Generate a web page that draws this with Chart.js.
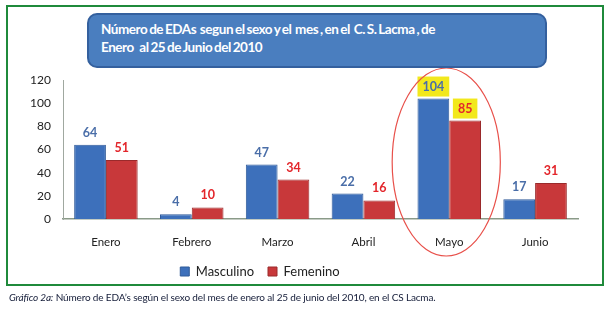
<!DOCTYPE html>
<html><head><meta charset="utf-8">
<script src="https://cdn.jsdelivr.net/npm/chart.js@4/dist/chart.umd.min.js"></script>
<style>
html,body{margin:0;padding:0;background:#fff;width:607px;height:309px;overflow:hidden;font-family:Lato,"Open Sans",sans-serif;}
#frame{position:absolute;left:6px;top:5px;width:594px;height:277px;border:2px solid #1f8a3b;}
#title{position:absolute;left:87px;top:13px;width:444px;height:46px;background:#4a7ebf;border:2px solid #34609e;border-radius:10px;color:#fff;font-weight:bold;font-size:13.5px;line-height:18px;padding:5px 0 0 12px;white-space:pre;letter-spacing:-0.45px;word-spacing:-1px;}
#cv{position:absolute;left:0;top:0;}
#cap{position:absolute;left:9px;top:291px;font-size:10px;color:#141c38;white-space:nowrap;letter-spacing:-0.15px;}
</style></head><body>
<div id="frame"></div>
<canvas id="cv" width="607" height="309"></canvas>
<div id="title">Número de EDAs  segun el sexo y el  mes , en el  C. S. Lacma , de
Enero   al 25 de Junio del 2010</div>
<div id="cap"><i>Gráfico 2a:</i> Número de EDA’s según el sexo del mes de enero al 25 de junio del 2010, en el CS Lacma.</div>
<script>
const categories = ["Enero","Febrero","Marzo","Abril","Mayo","Junio"];
const masculino = [64,4,47,22,104,17];
const femenino = [51,10,34,16,85,31];
const seriesNames = ["Masculino","Femenino"];
const highlightIndex = 4;

function grad(ctx, base, light, dark){
  const c = ctx.chart.ctx; const el = ctx.element;
  if(!el || el.x===undefined) return base;
  const w = el.width || 30;
  const g = c.createLinearGradient(el.x - w/2, 0, el.x + w/2, 0);
  g.addColorStop(0, dark); g.addColorStop(0.12, base); g.addColorStop(0.5, light); g.addColorStop(0.88, base); g.addColorStop(1, dark);
  return g;
}

const labelPlugin = {
  id:'labels',
  afterLayout(chart){
    if(chart.legend){ chart.legend.right -= 58; }
  },
  afterDatasetsDraw(chart){
    const ctx = chart.ctx;
    ctx.save();
    ctx.font = 'bold 12.5px Lato, "Open Sans", sans-serif';
    ctx.textAlign='center'; ctx.textBaseline='middle';
    const colors = ['#4a6ea8','#e3262b'];
    chart.data.datasets.forEach((ds,di)=>{
      const meta = chart.getDatasetMeta(di);
      meta.data.forEach((bar,i)=>{
        const txt = String(ds.data[i]);
        const y = bar.y - 12;
        if(i===highlightIndex){
          const tw = ctx.measureText(txt).width;
          ctx.fillStyle = '#f2e81c';
          ctx.fillRect(bar.x - tw/2 - 5, y - 10, tw + 10, 20);
        }
        ctx.fillStyle = colors[di];
        ctx.fillText(txt, bar.x, y);
      });
    });
    const xs = chart.scales.x, ys = chart.scales.y;
    const cx = xs.getPixelForValue(highlightIndex) - 3;
    const top = ys.getPixelForValue(120) - 12;
    const bot = ys.getPixelForValue(0) + 37;
    ctx.beginPath();
    ctx.ellipse(cx, (top+bot)/2, xs.width/12*1.26, (bot-top)/2, 0, 0, Math.PI*2);
    ctx.strokeStyle = '#e8504a'; ctx.lineWidth = 1.2; ctx.stroke();
    ctx.restore();
  }
};

new Chart(document.getElementById('cv'), {
  type:'bar',
  data:{
    labels: categories,
    datasets:[
      {label:seriesNames[0], data:masculino,
       backgroundColor:(c)=>grad(c,'#3d70bb','#4f86cf','#2a5494'), borderColor:'#2f5a99', borderWidth:1,
       categoryPercentage:0.74, barPercentage:1.0},
      {label:seriesNames[1], data:femenino,
       backgroundColor:(c)=>grad(c,'#c8383a','#d84a4a','#952426'), borderColor:'#9a2a2b', borderWidth:1,
       categoryPercentage:0.74, barPercentage:1.0}
    ]
  },
  options:{
    responsive:false, animation:false, devicePixelRatio:1,
    layout:{padding:{top:80,left:0,right:29,bottom:21}},
    plugins:{
      legend:{position:'bottom', labels:{boxWidth:9, boxHeight:9, font:{size:13, family:'Lato, "Open Sans", sans-serif'}, color:'#222', padding:14,
        generateLabels(chart){
          const cols=['#3d70bb','#c8383a'], bcols=['#2f5a99','#9a2a2b'];
          return chart.data.datasets.map((d,i)=>({text:d.label, fillStyle:cols[i], strokeStyle:bcols[i], lineWidth:1, datasetIndex:i, fontColor:'#222'}));
        }}},
      tooltip:{enabled:false}
    },
    scales:{
      x:{grid:{display:false, drawTicks:false}, border:{color:'#8a9a88', width:1.5},
         ticks:{color:'#222', font:{size:11.5, family:'Lato, "Open Sans", sans-serif'}, padding:16},
         afterFit(s){ s.height = 32; }},
      y:{min:0,max:120, grid:{display:false, drawTicks:true, tickLength:4}, border:{color:'#a0a8a0', width:1},
         ticks:{stepSize:20, color:'#222', font:{size:12, family:'Lato, "Open Sans", sans-serif'}, padding:8},
         afterFit(s){ s.width = 63; }}
    }
  },
  plugins:[labelPlugin]
});
</script>
</body></html>
